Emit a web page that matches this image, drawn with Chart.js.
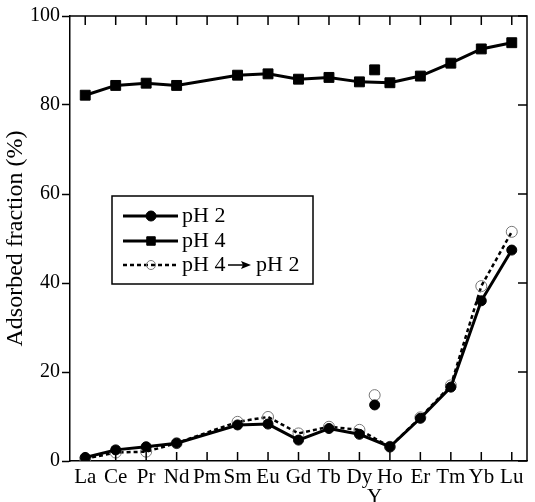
<!DOCTYPE html>
<html>
<head>
<meta charset="utf-8">
<script src="https://cdn.jsdelivr.net/npm/chart.js@4.4.1/dist/chart.umd.min.js"></script>
<style>
  html, body { margin: 0; padding: 0; background: #fff; }
  #wrap { width: 535px; height: 502px; }
</style>
</head>
<body>
<div id="wrap"><canvas id="chart"></canvas></div>
<script>
const elements = ['La', 'Ce', 'Pr', 'Nd', 'Pm', 'Sm', 'Eu', 'Gd', 'Tb', 'Dy', 'Ho', 'Er', 'Tm', 'Yb', 'Lu'];
const ph2 = [0.8, 2.5, 3.2, 4.0, null, 8.1, 8.3, 4.7, 7.3, 6.0, 3.2, 9.6, 16.6, 36.0, 47.4];
const ph4 = [82.2, 84.4, 84.9, 84.4, null, 86.7, 87.0, 85.8, 86.2, 85.2, 85.0, 86.5, 89.4, 92.6, 94.0];
const ph4to2 = [0.5, 1.9, 2.1, 4.0, null, 8.8, 9.9, 6.2, 7.7, 7.0, 3.2, 9.8, 17.0, 39.3, 51.5];

// yttrium, plotted between Dy and Ho
const yPos = 9.5;
const yPh2 = 12.6;
const yPh4 = 87.9;
const yPh4to2 = 14.8;

const serif = '"Liberation Serif", "DejaVu Serif", "Times New Roman", serif';

function toXY(arr) {
    return arr.map((v, i) => ({ x: i, y: v }));
}

// inward ticks on bottom, top and right, plus the box and legend
const framePlugin = {
    id: 'frame',
    afterDraw(chart) {
        const ctx = chart.ctx;
        const a = chart.chartArea;
        const xs = chart.scales.x;
        const ys = chart.scales.y;
        ctx.save();
        ctx.strokeStyle = '#000';
        ctx.lineWidth = 1.5;
        ctx.beginPath();
        ctx.moveTo(a.left, a.top);
        ctx.lineTo(a.right, a.top);
        ctx.lineTo(a.right, a.bottom);
        ctx.stroke();

        ctx.beginPath();
        elements.forEach((e, i) => {
            const px = xs.getPixelForValue(i);
            ctx.moveTo(px, a.bottom);
            ctx.lineTo(px, a.bottom - 9);
            ctx.moveTo(px, a.top);
            ctx.lineTo(px, a.top + 9);
        });
        for (let v = 0; v <= 100; v += 20) {
            const py = ys.getPixelForValue(v);
            ctx.moveTo(a.right, py);
            ctx.lineTo(a.right - 9, py);
        }
        ctx.stroke();

        // legend
        const bx = 112, by = 196, bw = 201, bh = 88;
        ctx.lineWidth = 1.5;
        ctx.strokeRect(bx, by, bw, bh);
        const rows = [216, 241, 265];
        const ds = chart.data.datasets;
        for (let k = 0; k < 3; k++) {
            const d = ds[k];
            const y = rows[k];
            ctx.beginPath();
            ctx.setLineDash(d.borderDash || []);
            ctx.lineWidth = d.borderWidth;
            ctx.strokeStyle = d.borderColor;
            ctx.moveTo(123, y);
            ctx.lineTo(178, y);
            ctx.stroke();
            ctx.setLineDash([]);
            ctx.fillStyle = d.pointBackgroundColor;
            ctx.strokeStyle = d.pointBorderColor;
            ctx.lineWidth = d.pointBorderWidth;
            Chart.helpers.drawPoint(ctx, {
                pointStyle: d.pointStyle,
                radius: d.legendRadius,
                borderWidth: d.pointBorderWidth
            }, 151, y);
        }
        ctx.font = '22px ' + serif;
        ctx.fillStyle = '#000';
        ctx.textBaseline = 'middle';
        ctx.fillText('pH 2', 182, rows[0]);
        ctx.fillText('pH 4', 182, rows[1]);
        ctx.fillText('pH 4', 182, rows[2]);
        ctx.fillText('pH 2', 256, rows[2]);
        // arrow
        ctx.strokeStyle = '#000';
        ctx.lineWidth = 1.5;
        ctx.beginPath();
        ctx.moveTo(228, rows[2]);
        ctx.lineTo(246, rows[2]);
        ctx.stroke();
        ctx.beginPath();
        ctx.moveTo(251, rows[2]);
        ctx.lineTo(241, rows[2] - 4);
        ctx.lineTo(243, rows[2]);
        ctx.lineTo(241, rows[2] + 4);
        ctx.closePath();
        ctx.fill();
        ctx.restore();
    }
};

new Chart(document.getElementById('chart'), {
    type: 'line',
    data: {
        datasets: [
            { label: 'pH 2', data: toXY(ph2), borderColor: '#000', borderWidth: 3,
              pointStyle: 'circle', pointRadius: 5, legendRadius: 5, pointBackgroundColor: '#000',
              pointBorderColor: '#000', pointBorderWidth: 1, spanGaps: true },
            { label: 'pH 4', data: toXY(ph4), borderColor: '#000', borderWidth: 3,
              pointStyle: 'rect', pointRadius: 7, legendRadius: 6, pointBackgroundColor: '#000',
              pointBorderColor: '#000', pointBorderWidth: 1, spanGaps: true },
            { label: 'pH 4 → pH 2', data: toXY(ph4to2), borderColor: '#000', borderWidth: 2.5,
              borderDash: [4, 3], pointStyle: 'circle', pointRadius: 5.5, legendRadius: 4.5,
              pointBackgroundColor: 'transparent', pointBorderColor: '#777',
              pointBorderWidth: 1, spanGaps: true },
            { label: 'Y pH 2', data: [{ x: yPos, y: yPh2 }], showLine: false,
              pointStyle: 'circle', pointRadius: 5, pointBackgroundColor: '#000', pointBorderColor: '#000' },
            { label: 'Y pH 4', data: [{ x: yPos, y: yPh4 }], showLine: false,
              pointStyle: 'rect', pointRadius: 7, pointBackgroundColor: '#000', pointBorderColor: '#000' },
            { label: 'Y pH 4 → pH 2', data: [{ x: yPos, y: yPh4to2 }], showLine: false,
              pointStyle: 'circle', pointRadius: 5.5, pointBackgroundColor: 'transparent',
              pointBorderColor: '#777', pointBorderWidth: 1 }
        ]
    },
    options: {
        responsive: true,
        maintainAspectRatio: false,
        animation: false,
        layout: { padding: { top: 16, right: 4, left: 4, bottom: 0 } },
        plugins: { legend: { display: false }, tooltip: { enabled: false } },
        scales: {
            x: {
                type: 'linear',
                min: -0.5,
                max: 14.5,
                afterBuildTicks(scale) {
                    const t = elements.map((e, i) => ({ value: i }));
                    t.push({ value: yPos });
                    scale.ticks = t;
                },
                afterFit(scale) {
                    scale.height = 41;
                },
                ticks: {
                    autoSkip: false,
                    maxRotation: 0,
                    padding: 7,
                    color: '#000',
                    font: { family: serif, size: 21, lineHeight: 0.95 },
                    callback: v => (v === yPos ? ['', 'Y'] : elements[v])
                },
                grid: { display: true, drawOnChartArea: false, drawTicks: false },
                border: { color: '#000', width: 1.5 }
            },
            y: {
                min: 0,
                max: 100,
                ticks: {
                    stepSize: 20,
                    padding: 2,
                    color: '#000',
                    font: { family: serif, size: 20 }
                },
                grid: { drawOnChartArea: false, tickLength: 8, tickColor: '#000', tickWidth: 1.5 },
                border: { color: '#000', width: 1.5 },
                title: {
                    display: true,
                    text: 'Adsorbed fraction (%)',
                    color: '#000',
                    font: { family: serif, size: 24, lineHeight: 1.0 },
                    padding: { top: 0, bottom: 0 }
                }
            }
        }
    },
    plugins: [framePlugin]
});
</script>
</body>
</html>
